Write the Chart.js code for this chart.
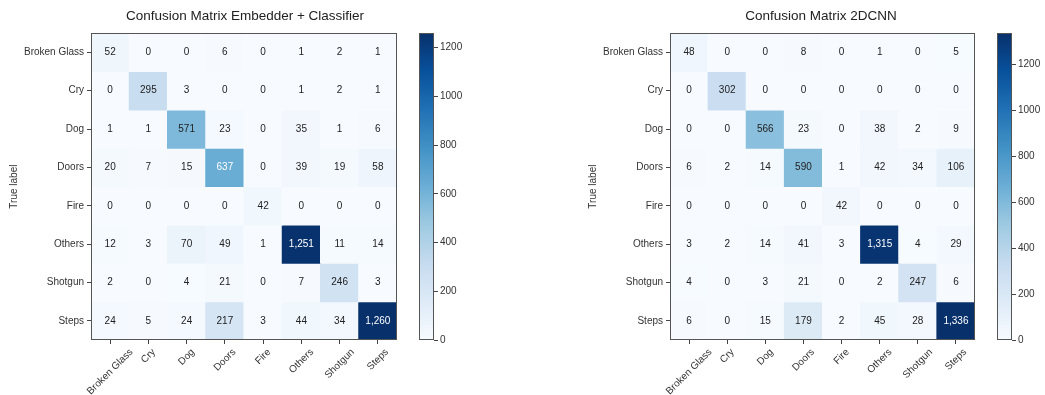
<!DOCTYPE html>
<html>
<head>
<meta charset="utf-8">
<script src="https://cdn.jsdelivr.net/npm/chart.js@4"></script>
<style>
  html, body { margin: 0; padding: 0; background: #fff; overflow: hidden; }
  #page { position: relative; width: 1045px; height: 395px; overflow: hidden; }
  .box { position: absolute; top: 0; height: 395px; }
</style>
</head>
<body>
<div id="page">
  <div class="box" style="left:0"><canvas id="cmLeft" width="490" height="395"></canvas></div>
  <div class="box" style="left:410px"><canvas id="cbLeft" width="60" height="395"></canvas></div>
  <div class="box" style="left:579px"><canvas id="cmRight" width="484" height="395"></canvas></div>
  <div class="box" style="left:988px"><canvas id="cbRight" width="57" height="395"></canvas></div>
</div>
<script>
const classes = ["Broken Glass", "Cry", "Dog", "Doors", "Fire", "Others", "Shotgun", "Steps"];

// rows = true label, columns = predicted label
const embedderCounts = [
    [52, 0, 0, 6, 0, 1, 2, 1],
    [0, 295, 3, 0, 0, 1, 2, 1],
    [1, 1, 571, 23, 0, 35, 1, 6],
    [20, 7, 15, 637, 0, 39, 19, 58],
    [0, 0, 0, 0, 42, 0, 0, 0],
    [12, 3, 70, 49, 1, 1251, 11, 14],
    [2, 0, 4, 21, 0, 7, 246, 3],
    [24, 5, 24, 217, 3, 44, 34, 1260]
];

const cnnCounts = [
    [48, 0, 0, 8, 0, 1, 0, 5],
    [0, 302, 0, 0, 0, 0, 0, 0],
    [0, 0, 566, 23, 0, 38, 2, 9],
    [6, 2, 14, 590, 1, 42, 34, 106],
    [0, 0, 0, 0, 42, 0, 0, 0],
    [3, 2, 14, 41, 3, 1315, 4, 29],
    [4, 0, 3, 21, 0, 2, 247, 6],
    [6, 0, 15, 179, 2, 45, 28, 1336]
];

const colorbarTicks = [0, 200, 400, 600, 800, 1000, 1200];

// matplotlib "Blues"
const bluesStops = ["#f7fbff", "#deebf7", "#c6dbef", "#9ecae1", "#6baed6", "#4292c6", "#2171b5", "#08519c", "#08306b"];

const FONT = "'Liberation Sans', Arial, sans-serif";
Chart.defaults.font.family = FONT;
Chart.defaults.font.size = 10;
Chart.defaults.color = "#333";
Chart.defaults.animation = false;

function hexToRgb(h) {
    return [parseInt(h.substr(1, 2), 16), parseInt(h.substr(3, 2), 16), parseInt(h.substr(5, 2), 16)];
}

function blues(t) {
    t = Math.max(0, Math.min(1, t));
    const pos = t * (bluesStops.length - 1);
    const i = Math.min(Math.floor(pos), bluesStops.length - 2);
    const f = pos - i;
    const a = hexToRgb(bluesStops[i]), b = hexToRgb(bluesStops[i + 1]);
    const c = a.map((v, k) => Math.round(v + (b[k] - v) * f));
    return `rgb(${c[0]}, ${c[1]}, ${c[2]})`;
}

const framePlugin = {
    id: "frame",
    afterDraw(chart) {
        const a = chart.chartArea;
        const ctx = chart.ctx;
        ctx.save();
        ctx.strokeStyle = "#555";
        ctx.lineWidth = 1;
        ctx.strokeRect(Math.round(a.left) + 0.5, Math.round(a.top) + 0.5,
            Math.round(a.right - a.left) - 1, Math.round(a.bottom - a.top) - 1);
        ctx.restore();
    }
};

function cellLabelPlugin(vmax) {
    return {
        id: "cellLabels",
        afterDatasetsDraw(chart) {
            const ctx = chart.ctx;
            ctx.save();
            ctx.font = "10px " + FONT;
            ctx.textAlign = "center";
            ctx.textBaseline = "middle";
            chart.data.datasets.forEach((ds, i) => {
                chart.getDatasetMeta(i).data.forEach((bar, j) => {
                    const v = ds.counts[j];
                    const p = bar.getCenterPoint();
                    ctx.fillStyle = v > vmax / 2 ? "#fff" : "#222";
                    ctx.fillText(v.toLocaleString("en-US"), p.x, p.y);
                });
            });
            ctx.restore();
        }
    };
}

// x labels rotated 45deg with their bounding box centred under the tick (matplotlib style)
const rotatedLabels = {
    id: "rotatedLabels",
    afterDraw(chart) {
        const xs = chart.scales.x;
        const ctx = chart.ctx;
        const size = 10;
        const top = chart.chartArea.bottom + 4 + 3;
        ctx.save();
        ctx.font = size + "px " + FONT;
        ctx.fillStyle = "#333";
        ctx.textAlign = "center";
        ctx.textBaseline = "middle";
        classes.forEach((label, i) => {
            const w = ctx.measureText(label).width;
            const half = (w + size) / (2 * Math.SQRT2);
            ctx.save();
            ctx.translate(xs.getPixelForTick(i), top + half);
            ctx.rotate(-Math.PI / 4);
            ctx.fillText(label, 0, 0);
            ctx.restore();
        });
        ctx.restore();
    }
};

const tickGrid = { display: true, drawOnChartArea: false, drawTicks: true, tickLength: 4, color: "#444" };

function drawMatrix(canvasId, title, counts, rightSpace) {
    const vmax = Math.max(...counts.flat());
    const datasets = counts.map((row, r) => ({
        label: classes[r],
        data: row.map(() => [r - 0.5, r + 0.5]),
        counts: row,
        backgroundColor: row.map(v => blues(v / vmax)),
        borderWidth: 0,
        inflateAmount: 0.5,
        grouped: false,
        barPercentage: 1,
        categoryPercentage: 1
    }));

    new Chart(document.getElementById(canvasId), {
        type: "bar",
        data: { labels: classes, datasets: datasets },
        options: {
            responsive: false,
            layout: { padding: 0 },
            plugins: {
                legend: { display: false },
                tooltip: { enabled: false },
                title: {
                    display: true,
                    text: title,
                    color: "#222",
                    font: { size: 13.5, weight: "normal" },
                    padding: { top: 8, bottom: 9 }
                }
            },
            scales: {
                x: {
                    type: "category",
                    offset: true,
                    grid: { ...tickGrid, offset: false },
                    border: { display: false },
                    ticks: { display: false, autoSkip: false },
                    afterFit: s => { s.height = 55; }
                },
                y: {
                    type: "linear",
                    reverse: true,
                    min: -0.5,
                    max: classes.length - 0.5,
                    afterBuildTicks: s => { s.ticks = classes.map((_, i) => ({ value: i })); },
                    ticks: { callback: v => classes[v], autoSkip: false, padding: 3 },
                    grid: tickGrid,
                    border: { display: false },
                    title: { display: true, text: "True label", padding: { top: 8, bottom: 0 } },
                    afterFit: s => { s.width = 91; }
                },
                spacer: {
                    type: "linear",
                    position: "right",
                    grid: { display: false },
                    border: { display: false },
                    ticks: { display: false },
                    afterFit: s => { s.width = rightSpace; }
                }
            }
        },
        plugins: [framePlugin, cellLabelPlugin(vmax), rotatedLabels]
    });
}

function drawColorbar(canvasId, counts, scaleWidth) {
    const vmax = Math.max(...counts.flat());
    new Chart(document.getElementById(canvasId), {
        type: "bar",
        data: {
            labels: [""],
            datasets: [{
                data: [[0, vmax]],
                borderWidth: 0,
                barPercentage: 1,
                categoryPercentage: 1,
                backgroundColor: c => {
                    const a = c.chart.chartArea;
                    if (!a) return bluesStops[0];
                    const g = c.chart.ctx.createLinearGradient(0, a.bottom, 0, a.top);
                    bluesStops.forEach((col, i) => g.addColorStop(i / (bluesStops.length - 1), col));
                    return g;
                }
            }]
        },
        options: {
            responsive: false,
            layout: { padding: { top: 33, bottom: 55, left: 9, right: 0 } },
            plugins: { legend: { display: false }, tooltip: { enabled: false } },
            scales: {
                x: { display: false },
                y: {
                    position: "right",
                    min: 0,
                    max: vmax,
                    afterBuildTicks: s => { s.ticks = colorbarTicks.filter(t => t <= vmax).map(v => ({ value: v })); },
                    grid: tickGrid,
                    border: { display: false },
                    ticks: { padding: 2, callback: v => String(v) },
                    afterFit: s => { s.width = scaleWidth; }
                }
            }
        },
        plugins: [framePlugin]
    });
}

drawMatrix("cmLeft", "Confusion Matrix Embedder + Classifier", embedderCounts, 93);
drawColorbar("cbLeft", embedderCounts, 36);
drawMatrix("cmRight", "Confusion Matrix 2DCNN", cnnCounts, 88);
drawColorbar("cbRight", cnnCounts, 33);
</script>
</body>
</html>
